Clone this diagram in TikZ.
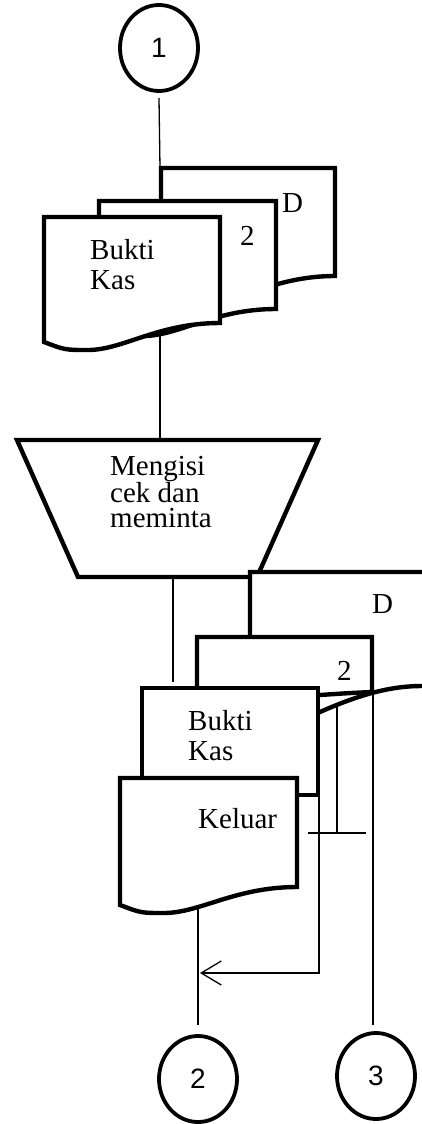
\documentclass[tikz,border=0pt]{standalone}
\usepackage{fontspec}
\setmainfont{Liberation Serif}
\newfontfamily\arialf{Liberation Sans}
\usetikzlibrary{shapes.geometric,arrows.meta}
\begin{document}
\begin{tikzpicture}[x=1pt,y=-1pt,
  conn/.style={draw, ellipse, line width=3.8pt, minimum width=78pt, minimum height=86pt, inner sep=0pt, font=\arialf\fontsize{28}{30}\selectfont},
  doc/.style={draw, fill=white, line width=4.4pt},
  flow/.style={line width=1.3pt},
  lbl/.style={font=\fontsize{29}{29.5}\selectfont, inner sep=0pt, align=left, anchor=base west},
  lblt/.style={font=\fontsize{29}{24.5}\selectfont, inner sep=0pt, align=left, anchor=base west}]
\useasboundingbox (0,0) rectangle (422,1124);

% connectors (drawn first, shapes cover their ends)
\node[conn] (c1) at (159,48) {1};
\node[conn] (c2) at (198,1079) {2};
\node[conn] (c3) at (376,1076) {3};

\coordinate (dTop) at (160,168);
\coordinate (docOut) at (160,334);
\coordinate (trTop) at (160,440);
\coordinate (trBot) at (173,577);
\coordinate (trEnd) at (173,682);
\coordinate (kBot) at (198,909);
\coordinate (kEnd) at (198,1025);
\coordinate (mCorner) at (373,693);
\coordinate (mEnd) at (373,1025);
\coordinate (bCorner) at (319,795);
\coordinate (bTurn) at (319,973);
\coordinate (arrTip) at (200,973);
\coordinate (sTop) at (337,687);
\coordinate (sBot) at (337,833);
\coordinate (hL) at (308,833);
\coordinate (hR) at (366,833);

\draw[flow] ([yshift=-5pt]c1.south) -- (dTop);
\draw[flow] (docOut) -- (trTop);
\draw[flow] (trBot) -- (trEnd);
\draw[flow] (kBot) -- (kEnd);
\draw[flow] (mCorner) -- (mEnd);
\draw[flow, -{Straight Barb[length=20pt,width=24pt,line width=1.3pt]}] (bCorner) -- (bTurn) -- (arrTip);
\draw[flow] (sTop) -- (sBot);
\draw[flow] (hL) -- (hR);

% upper stacked documents
\draw[doc] (161,168) -- (335,168) -- (335,276) .. controls (274,276) and (239,303) .. (204,303) .. controls (182,303) .. (161,295) -- cycle;
\draw[doc] (99,201) -- (276,201) -- (276,309) .. controls (214,309) and (179,336) .. (143,336) .. controls (120,336) .. (99,328) -- cycle;
\draw[doc] (44,217) -- (220,217) -- (220,323) .. controls (158,323) and (123,350) .. (88,350) .. controls (65,350) .. (44,342) -- cycle;
\node[lbl] (tD1) at (282,212) {D};
\node[lbl] (t21) at (240,245) {2};
\node[lbl] (tBK1) at (90,289) {Bukti\\Kas};

% process (manual operation)
\draw[doc] (17,440) -- (318,440) -- (257,577) -- (78,577) -- cycle;
\node[lblt] (tM) at (110,527) {Mengisi\\cek dan\\meminta};

% lower stacked documents
\draw[doc] (250,572) -- (440,572) -- (440,685) -- (422,686) .. controls (395,686) and (365,692) .. (320,712) -- (250,730) -- cycle;
\draw[doc] (197,637) -- (372,637) -- (372,692) .. controls (350,693) .. (320,695) -- (240,705) -- (197,705) -- cycle;
\draw[doc] (142,688) -- (318,688) -- (318,795) -- (142,795) -- cycle;
\draw[doc] (120,778) -- (297,778) -- (297,887) .. controls (235,887) and (200,913) .. (164,913) .. controls (141,913) .. (120,905) -- cycle;
\node[lbl] (tD2) at (372,613) {D};
\node[lbl] (t22) at (337,680) {2};
\node[lbl] (tBK2) at (188,760) {Bukti\\Kas};
\node[lbl] (tK) at (198,828) {Keluar};
\end{tikzpicture}
\end{document}
